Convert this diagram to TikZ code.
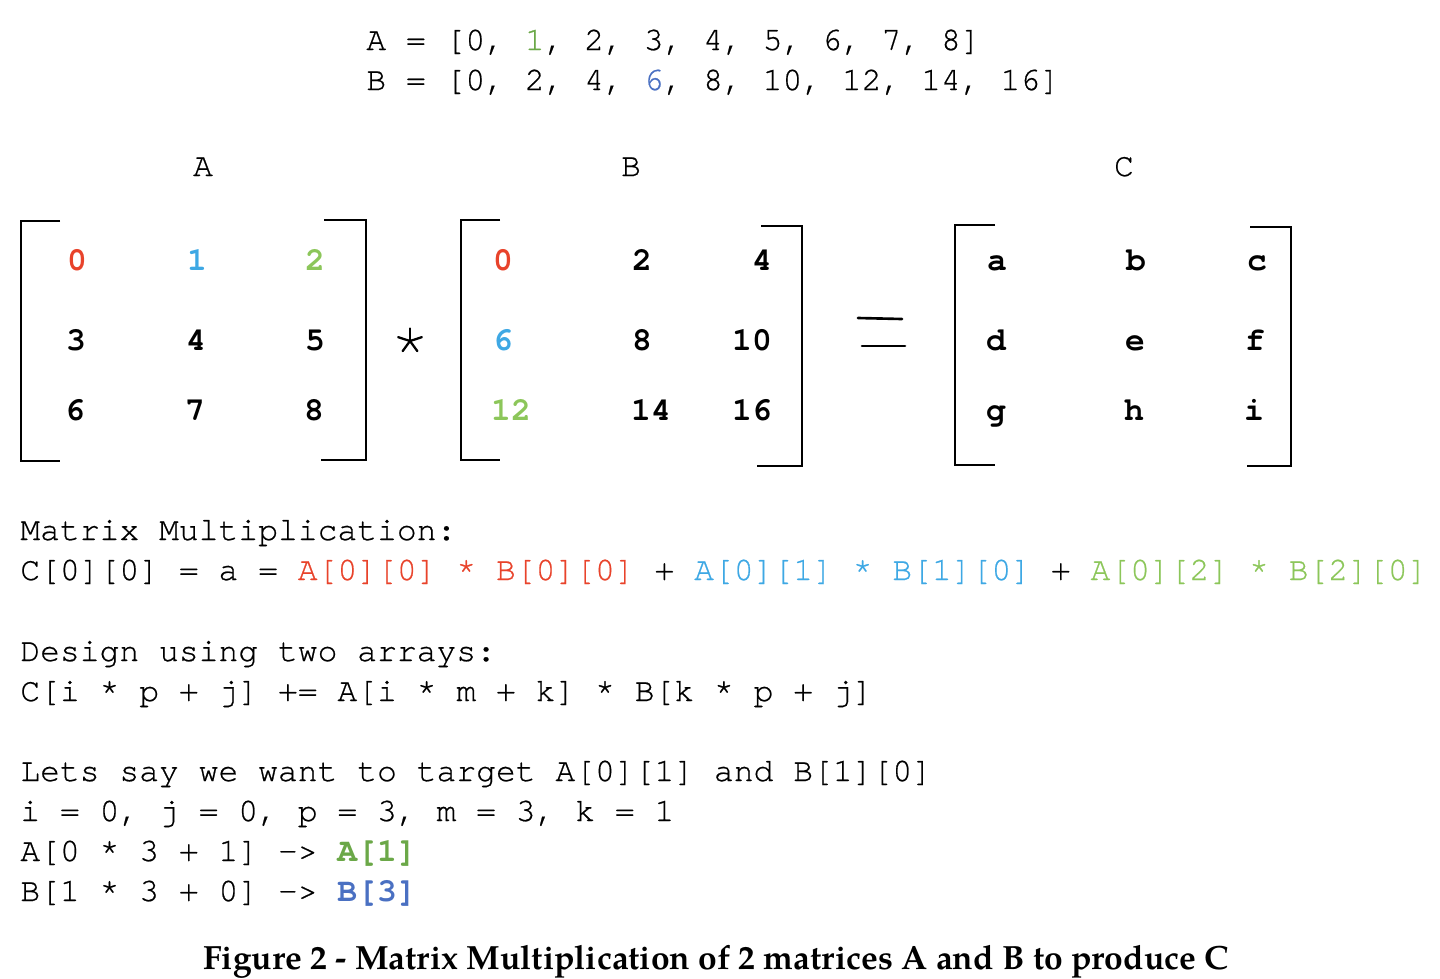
\documentclass[tikz,border=0pt]{standalone}
\usepackage{xcolor}
\usepackage{fontspec}
\usepackage{tikz}
\newfontfamily\codefont{TeX Gyre Cursor}[UprightFeatures={FakeBold=0.6}]
\newfontfamily\capfont{TeX Gyre Pagella}

\definecolor{firstred}{HTML}{E8432B}
\definecolor{secondblue}{HTML}{3EA8E4}
\definecolor{thirdgreen}{HTML}{8CC65A}
\definecolor{indexgreen}{HTML}{6BA848}
\definecolor{indexblue}{HTML}{4A70C2}

\tikzset{
    codetext/.style={anchor=base west, inner sep=0pt, font=\codefont\fontsize{18.8}{22}\selectfont},
    celltext/.style={anchor=base, inner sep=0pt, font=\codefont\bfseries\fontsize{18.8}{22}\selectfont},
    nametext/.style={anchor=base, inner sep=0pt, font=\codefont\fontsize{18.8}{22}\selectfont},
    bracket/.style={line width=1.5pt},
    opline/.style={line width=1.5pt, line cap=round}
}

\begin{document}
\begin{tikzpicture}[x=0.02cm, y=-0.02cm]
                \useasboundingbox (0,0) rectangle (1440,978);

                % flat arrays
                \node[codetext] (arrA) at (366,50) {A = [0, \textcolor{indexgreen}{1}, 2, 3, 4, 5, 6, 7, 8]};
                \node[codetext] (arrB) at (366,90) {B = [0, 2, 4, \textcolor{indexblue}{6}, 8, 10, 12, 14, 16]};

                % matrix names
                \node[nametext] (nameA) at (203,176) {A};
                \node[nametext] (nameB) at (631,176) {B};
                \node[nametext] (nameC) at (1124,176) {C};

                % matrix A
                \node[celltext, text=firstred] (a00) at (77,270) {0};
                \node[celltext, text=secondblue] (a01) at (197,270) {1};
                \node[celltext, text=thirdgreen] (a02) at (315,270) {2};
                \node[celltext] (a10) at (76,350) {3};
                \node[celltext] (a11) at (196,350) {4};
                \node[celltext] (a12) at (315,350) {5};
                \node[celltext] (a20) at (75,420) {6};
                \node[celltext] (a21) at (195,420) {7};
                \node[celltext] (a22) at (314,420) {8};

                % matrix B
                \node[celltext, text=firstred] (b00) at (503,270) {0};
                \node[celltext] (b01) at (642,270) {2};
                \node[celltext] (b02) at (762,270) {4};
                \node[celltext, text=secondblue] (b10) at (503,350) {6};
                \node[celltext] (b11) at (642,350) {8};
                \node[celltext] (b12) at (752,350) {10};
                \node[celltext, text=thirdgreen] (b20) at (511,420) {12};
                \node[celltext] (b21) at (651,420) {14};
                \node[celltext] (b22) at (752,420) {16};

                % matrix C
                \node[celltext] (c00) at (997,270) {a};
                \node[celltext] (c01) at (1136,270) {b};
                \node[celltext] (c02) at (1257,270) {c};
                \node[celltext] (c10) at (996,350) {d};
                \node[celltext] (c11) at (1135,350) {e};
                \node[celltext] (c12) at (1255,350) {f};
                \node[celltext] (c20) at (996,420) {g};
                \node[celltext] (c21) at (1134,420) {h};
                \node[celltext] (c22) at (1254,420) {i};

                % brackets
                \draw[
                    bracket
                    ] (60,221) -- (21,221) -- (21,461) -- (60,461);
                \draw[
                    bracket
                    ] (324,220) -- (366,220) -- (366,460) -- (321,460);
                \draw[
                    bracket
                    ] (500,220) -- (461,220) -- (461,460) -- (500,460);
                \draw[
                    bracket
                    ] (761,226) -- (802,226) -- (802,466) -- (757,466);
                \draw[
                    bracket
                    ] (995,225) -- (955,225) -- (955,465) -- (995,465);
                \draw[
                    bracket
                    ] (1250,227) -- (1291,227) -- (1291,466) -- (1247,466);

                % times and equals
                \coordinate (star) at (410,341);
                \foreach \ang in {90,18,162,234,306}
                    \draw[opline, line width=1.3pt] (star) -- ++(-\ang:12.5);
                \draw[
                    opline
                    ] (858,318) -- (902,319);
                \draw[
                    opline
                    ] (862,346) -- (905,346);

                % explanation
                \node[codetext] (line1) at (20,540) {Matrix Multiplication:};
                \node[codetext] (line2) at (20,580) {C[0][0] = a = \textcolor{firstred}{A[0][0] * B[0][0]} + \textcolor{secondblue}{A[0][1] * B[1][0]} + \textcolor{thirdgreen}{A[0][2] * B[2][0]}};
                \node[codetext] (line3) at (20,661) {Design using two arrays:};
                \node[codetext] (line4) at (20,701) {C[i * p + j] += A[i * m + k] * B[k * p + j]};
                \node[codetext] (line5) at (20,781) {Lets say we want to target A[0][1] and B[1][0]};
                \node[codetext] (line6) at (20,821) {i = 0, j = 0, p = 3, m = 3, k = 1};
                \node[codetext] (line7) at (20,861) {A[0 * 3 + 1] -> \textcolor{indexgreen}{\bfseries A[1]}};
                \node[codetext] (line8) at (20,901) {B[1 * 3 + 0] -> \textcolor{indexblue}{\bfseries B[3]}};

                % caption
                \node[anchor=base, inner sep=0pt, font=\capfont\bfseries\fontsize{19.1}{24}\selectfont] (caption) at (716,969) {Figure 2 - Matrix Multiplication of 2 matrices A and B to produce C};

\end{tikzpicture}
\end{document}
